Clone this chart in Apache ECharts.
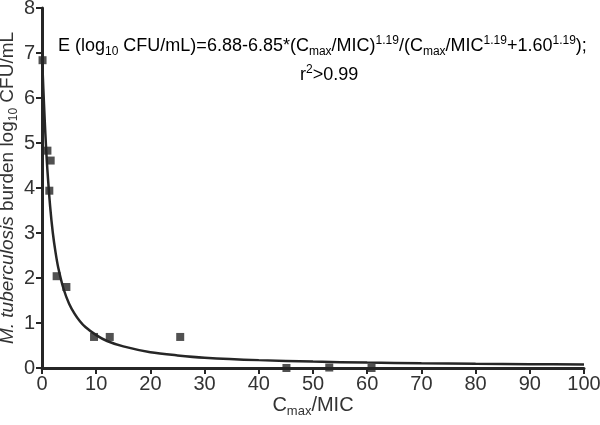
<!DOCTYPE html>
<html lang="en">
<head>
    <meta charset="UTF-8">
    <title>E max fit</title>
    <script src="https://cdn.jsdelivr.net/npm/echarts@6/dist/echarts.min.js"></script>
    <style>
        html, body { margin: 0; padding: 0; background: #fff; }
        #c { width: 600px; height: 425px; }
    </style>
</head>
<body>
<div id="c"></div>
<script type="text/javascript">
// observed points (Cmax/MIC, log10 CFU/mL)
var obsX = [0.1, 1.0, 1.6, 1.35, 2.7, 4.5, 9.6, 12.5, 25.5, 45.1, 53.0, 60.8];
var obsY = [6.84, 4.83, 4.61, 3.94, 2.04, 1.80, 0.69, 0.69, 0.69, 0.0, 0.01, 0.0];

// fitted curve
var fitX = [0, 0.1, 0.25, 0.5, 0.75, 1, 1.5, 2, 2.5, 3, 4, 5, 6, 7, 8, 10, 12, 15, 20, 25, 30, 40, 50, 60, 70, 80, 90, 100];
var fitY = [6.88, 6.64, 6.20, 5.51, 4.90, 4.39, 3.59, 3.00, 2.57, 2.23, 1.75, 1.43, 1.21, 1.04, 0.91, 0.73, 0.60, 0.48, 0.35, 0.28, 0.23, 0.175, 0.142, 0.12, 0.105, 0.094, 0.086, 0.08];

var xTicks = [0, 10, 20, 30, 40, 50, 60, 70, 80, 90, 100];
var yTicks = [0, 1, 2, 3, 4, 5, 6, 7, 8];

var ink = '#262626';
var txt = '#333333';
var font = 'Liberation Sans';

function pairs(xs, ys) {
    var out = [];
    for (var i = 0; i < xs.length; i++) out.push([xs[i], ys[i]]);
    return out;
}

function richSet(size, small) {
    return {
        it: { fontStyle: 'italic', fontSize: size, fontFamily: font, color: txt, lineHeight: size + 5 },
        n: { fontSize: size, fontFamily: font, color: txt, lineHeight: size + 5 },
        sub: { fontSize: small, fontFamily: font, color: txt, lineHeight: small, verticalAlign: 'bottom' },
        sup: { fontSize: small, fontFamily: font, color: txt, lineHeight: small, verticalAlign: 'top' }
    };
}

var chart = echarts.init(document.getElementById('c'), null, { renderer: 'canvas' });
chart.setOption({
    animation: false,
    backgroundColor: '#fff',
    grid: { left: 42, right: 16, top: 8, bottom: 57, outerBoundsMode: 'none' },
    xAxis: {
        type: 'value',
        min: xTicks[0], max: xTicks[xTicks.length - 1], interval: 10,
        name: '{n|C}{sub|max}{n|/MIC}',
        nameLocation: 'middle',
        nameGap: 25,
        nameMoveOverlap: false,
        nameTextStyle: { rich: richSet(20, 13) },
        axisLine: { onZero: false, lineStyle: { color: ink, width: 3 } },
        axisTick: { length: 6, lineStyle: { color: ink, width: 2 } },
        axisLabel: { color: txt, fontSize: 20, fontFamily: font, margin: 6 },
        splitLine: { show: false }
    },
    yAxis: {
        type: 'value',
        min: yTicks[0], max: yTicks[yTicks.length - 1], interval: 1,
        name: '{it|M. tuberculosis}{n| burden log}{sub|10}{n| CFU/mL}',
        nameLocation: 'middle',
        nameRotate: 90,
        nameGap: 22,
        nameMoveOverlap: false,
        nameTextStyle: { rich: richSet(19, 12) },
        axisLine: { onZero: false, lineStyle: { color: ink, width: 3 } },
        axisTick: { length: 6, lineStyle: { color: ink, width: 2 } },
        axisLabel: { color: txt, fontSize: 20, fontFamily: font, margin: 7 },
        splitLine: { show: false }
    },
    graphic: [{
        type: 'text',
        left: 58, top: 35,
        style: {
            text: '{n|E (log}{sub|10}{n| CFU/mL)=6.88-6.85*(C}{sub|max}{n|/MIC)}{sup|1.19}{n|/(C}{sub|max}{n|/MIC}{sup|1.19}{n|+1.60}{sup|1.19}{n|);}',
            rich: richSet(18, 12)
        }
    }, {
        type: 'text',
        left: 300, top: 64,
        style: {
            text: '{n|r}{sup|2}{n|>0.99}',
            rich: richSet(18, 12)
        }
    }],
    series: [{
        type: 'line',
        data: pairs(fitX, fitY),
        smooth: 0.3,
        showSymbol: false,
        lineStyle: { color: ink, width: 2.5 },
        z: 2
    }, {
        type: 'scatter',
        data: pairs(obsX, obsY),
        symbol: 'rect',
        symbolSize: 8,
        itemStyle: { color: ink },
        z: 3
    }]
});
</script>
</body>
</html>
